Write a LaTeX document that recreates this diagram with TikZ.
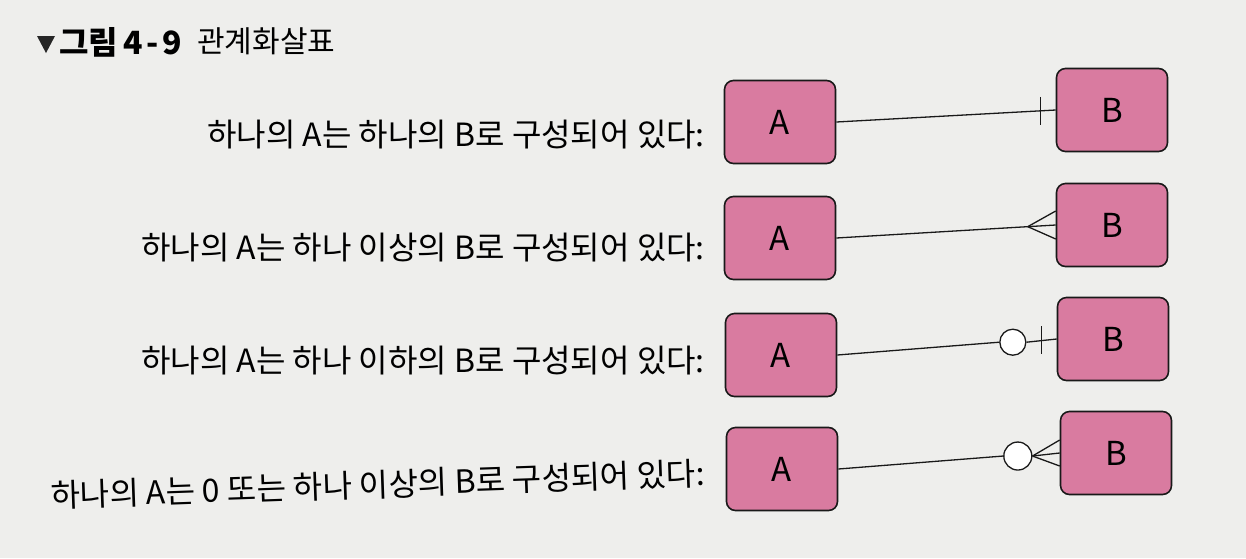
\documentclass[tikz,border=0pt]{standalone}
\usepackage{fontspec}
\setmainfont{Noto Sans CJK KR}
\newfontfamily\kr{Noto Sans CJK KR}
\usetikzlibrary{calc}
\definecolor{pagebg}{HTML}{EEEEEC}
\definecolor{boxpink}{HTML}{D97BA0}
\tikzset{
  ent/.style={draw=black!90, line width=1.6pt, fill=boxpink, rounded corners=9pt,
    minimum width=111pt, minimum height=83pt, font=\kr\fontsize{33}{33}\selectfont},
  lbl/.style={anchor=east, inner sep=0pt, font=\kr\fontsize{32}{34}\selectfont},
  rel/.style={line width=1.3pt, black!90},
  tickln/.style={line width=1.3pt, black!90},
  ring/.style={circle, draw=black!90, line width=1.3pt, fill=white, minimum size=26pt, inner sep=0pt}
}
\begin{document}
\begin{tikzpicture}[x=1pt,y=-1pt]
\fill[pagebg] (0,0) rectangle (1246,558);
\useasboundingbox (0,0) rectangle (1246,558);
% title
\fill[black!85] (37,36) -- (55,36) -- (46,53) -- cycle;
\node[anchor=west, inner sep=0pt, font=\kr\bfseries\fontsize{32}{32}\selectfont] (t1) at (59,42) {그림\kern5pt 4\kern4pt-\kern4pt9};
\node[anchor=west, inner sep=0pt, font=\kr\fontsize{30}{30}\selectfont] (t2) at (197,41) {관계화살표};
% entities
\node[ent] (A1) at (780,122) {A};
\node[ent] (B1) at (1112,110) {B};
\node[ent] (A2) at (780,238) {A};
\node[ent] (B2) at (1112,225) {B};
\node[ent] (A3) at (781,355) {A};
\node[ent] (B3) at (1113,339) {B};
\node[ent] (A4) at (782,469) {A};
\node[ent] (B4) at (1116,453) {B};
% labels
\node[lbl] (L1) at (705,135) {하나의 A는 하나의 B로 구성되어 있다:};
\node[lbl] (L2) at (705,248) {하나의 A는 하나 이상의 B로 구성되어 있다:};
\node[lbl] (L3) at (705,361) {하나의 A는 하나 이하의 B로 구성되어 있다:};
\node[lbl, rotate=2] (L4) at (705,473) {하나의 A는 0 또는 하나 이상의 B로 구성되어 있다:};
% row 1: exactly one
\draw[rel] (A1.east) -- (B1.west);
\draw[tickln] ($(B1.west)!15pt!(A1.east)$) ++(0,-14) -- ++(0,28);
% row 2: one or more
\coordinate (c2) at ($(B2.west)!28pt!(A2.east)$);
\draw[rel] (A2.east) -- (c2);
\draw[tickln] (c2) -- ($(B2.west)+(0,-14)$);
\draw[tickln] (c2) -- (B2.west);
\draw[tickln] (c2) -- ($(B2.west)+(0,14)$);
% row 3: zero or one
\node[ring] (o3) at ($(B3.west)!44pt!(A3.east)$) {};
\draw[rel] (A3.east) -- (o3.west);
\draw[tickln] (o3.east) -- (B3.west);
\draw[tickln] ($(B3.west)!15pt!(A3.east)$) ++(0,-14) -- ++(0,28);
% row 4: zero or more
\node[ring, minimum size=28pt] (o4) at ($(B4.west)!42pt!(A4.east)$) {};
\draw[rel] (A4.east) -- (o4.west);
\draw[tickln] (o4.east) -- ($(B4.west)+(0,-13)$);
\draw[tickln] (o4.east) -- (B4.west);
\draw[tickln] (o4.east) -- ($(B4.west)+(0,13)$);
\end{tikzpicture}
\end{document}
